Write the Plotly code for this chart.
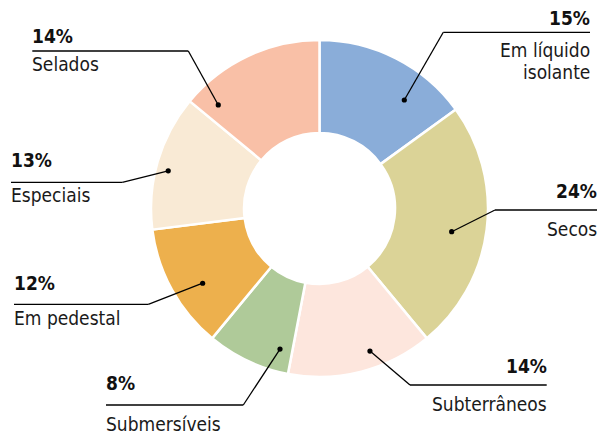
import math
import plotly.graph_objects as go

# ---- data ----
categories = ["Em líquido isolante", "Secos", "Subterrâneos", "Submersíveis",
              "Em pedestal", "Especiais", "Selados"]
values = [15, 24, 14, 8, 12, 13, 14]
pct_labels = ["15%", "24%", "14%", "8%", "12%", "13%", "14%"]
name_lines = [["Em líquido", "isolante"], ["Secos"], ["Subterrâneos"], ["Submersíveis"],
              ["Em pedestal"], ["Especiais"], ["Selados"]]
colors = ["#8AADD9", "#DBD397", "#FDE6DD", "#AFCA99", "#EDB04D", "#F9EAD5", "#F9C0A7"]

# ---- layout/style (pixels) ----
W, H = 603, 436
CX, CY, R = 319.5, 208.5, 168.5
HOLE = 75.5 / 168.5
# where leader dot sits inside each slice: (fraction of slice angle, radius px)
dot_pos = [(0.704, 137.7), (0.532, 134.2), (0.399, 151.2), (0.170, 146.0),
           (0.412, 138.7), (0.453, 155.9), (0.12, 144.8)]
# label block: (elbow x, line y, line end x, align, pct cap-center y, first name cap-center y)
label_pos = [
    (443.3, 32.3, 590.0, "right", 17.5, 49.5),
    (495.0, 210.0, 597.0, "right", 190.5, 228.7),
    (410.0, 385.0, 546.7, "right", 365.5, 403.7),
    (243.3, 405.0, 106.0, "left", 382.5, 423.7),
    (148.3, 304.3, 14.0, "left", 282.5, 318.0),
    (122.3, 182.3, 11.0, "left", 160.0, 195.0),
    (188.3, 51.0, 32.3, "left", 35.8, 63.7),
]
LINE_GAP = 23.0
TEXT_PAD = 2.0  # compensate annotation inner padding
FONT = "DejaVu Sans Condensed, Liberation Sans Narrow, sans-serif"


def px(x):
    return x / W


def py(y):
    return 1 - y / H


fig = go.Figure(go.Pie(
    labels=categories, values=values, sort=False, direction="clockwise",
    rotation=0, hole=HOLE, textinfo="none", hoverinfo="label+percent",
    marker=dict(colors=colors, line=dict(color="white", width=2.5)),
    domain=dict(x=[px(CX - R), px(CX + R)], y=[py(CY + R), py(CY - R)]),
    showlegend=False,
))

shapes = []
annotations = []
total = sum(values)
cum = 0
for i, v in enumerate(values):
    a0 = cum / total * 360
    a1 = (cum + v) / total * 360
    cum += v
    frac, rad = dot_pos[i]
    ang = math.radians(a0 + frac * (a1 - a0))
    dx = CX + rad * math.sin(ang)
    dy = CY - rad * math.cos(ang)
    ex, ly, endx, align, pct_y, name_y = label_pos[i]
    shapes.append(dict(type="line", xref="paper", yref="paper",
                       x0=px(dx), y0=py(dy), x1=px(ex), y1=py(ly),
                       line=dict(color="black", width=1.3)))
    shapes.append(dict(type="line", xref="paper", yref="paper",
                       x0=px(ex), y0=py(ly), x1=px(endx), y1=py(ly),
                       line=dict(color="black", width=1.3)))
    rr = 2.6
    shapes.append(dict(type="circle", xref="paper", yref="paper",
                       x0=px(dx - rr), x1=px(dx + rr), y0=py(dy + rr), y1=py(dy - rr),
                       fillcolor="black", line=dict(width=0)))
    tx = endx + TEXT_PAD if align == "right" else endx - TEXT_PAD
    annotations.append(dict(x=px(tx), y=py(pct_y), xref="paper", yref="paper",
                            text="<b>" + pct_labels[i] + "</b>", showarrow=False,
                            xanchor=align, yanchor="middle",
                            font=dict(family=FONT, size=19, color="#111111")))
    for k, line in enumerate(name_lines[i]):
        annotations.append(dict(x=px(tx), y=py(name_y + k * LINE_GAP), xref="paper", yref="paper",
                                text=line, showarrow=False, xanchor=align, yanchor="middle",
                                font=dict(family=FONT, size=19, color="#1a1a1a")))

fig.update_layout(
    width=W, height=H, margin=dict(l=0, r=0, t=0, b=0),
    paper_bgcolor="white", plot_bgcolor="white",
    shapes=shapes, annotations=annotations,
)
fig.write_html("out.html")
